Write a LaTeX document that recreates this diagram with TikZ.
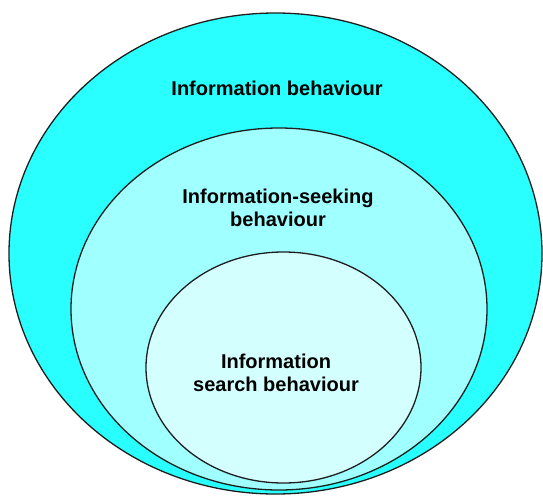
\documentclass[tikz,border=0pt]{standalone}
\usepackage{fontspec}
\setmainfont{Liberation Sans}
\definecolor{outerfill}{RGB}{42,255,255}
\definecolor{midfill}{RGB}{160,255,255}
\definecolor{innerfill}{RGB}{212,255,255}
\definecolor{edge}{RGB}{30,30,30}
\tikzset{
  ring/.style={ellipse, draw=edge, line width=1.3pt, inner sep=0pt},
  lbl/.style={font=\bfseries\fontsize{20}{23.5}\selectfont, align=center, text=black}
}
\usetikzlibrary{shapes.geometric}
\begin{document}
\begin{tikzpicture}[x=1pt,y=-1pt]
\useasboundingbox (0,0) rectangle (543,495);
\node[ring, fill=outerfill, minimum width=533pt, minimum height=481pt] (outer) at (275.5,253.5) {};
\node[ring, fill=midfill, minimum width=416pt, minimum height=362pt] (middle) at (279,309) {};
\node[ring, fill=innerfill, minimum width=275pt, minimum height=231pt] (inner) at (283.5,367.5) {};
\node[lbl] (t1) at (277,88) {Information behaviour};
\node[lbl] (t2) at (278,208) {Information-seeking\\behaviour};
\node[lbl] (t3) at (276,373) {Information\\search behaviour};
\end{tikzpicture}
\end{document}
